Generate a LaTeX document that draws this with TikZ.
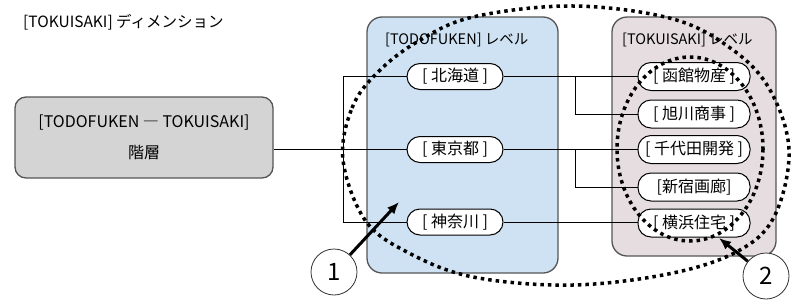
\documentclass[tikz,border=0pt]{standalone}
\usepackage{fontspec}
\setmainfont{Noto Sans CJK JP}
\usetikzlibrary{arrows.meta,calc}
\definecolor{bluefill}{HTML}{CFE2F3}
\definecolor{pinkfill}{HTML}{E6DDE0}
\definecolor{greyfill}{HTML}{D4D4D4}
\definecolor{edgegrey}{HTML}{555555}
\begin{document}
\begin{tikzpicture}[x=1pt,y=-1pt,
  txt/.style={font=\fontsize{14.5}{16}\selectfont, inner sep=0pt},
  levelbox/.style={draw=edgegrey, line width=1.3pt, rounded corners=15pt, inner sep=0pt},
  hierbox/.style={draw=edgegrey, line width=1.3pt, rounded corners=11pt, fill=greyfill,
    minimum width=258, minimum height=81, inner sep=0pt, align=center,
    font=\fontsize{16}{31}\selectfont},
  member/.style={draw, fill=white, rounded corners=13pt, line width=1pt, inner sep=0pt,
    font=\fontsize{16}{18}\selectfont},
  bluemember/.style={member, minimum width=96, minimum height=26},
  pinkmember/.style={member, minimum width=112, minimum height=28},
  conn/.style={line width=0.8pt},
  dotring/.style={line width=3.5pt, dash pattern=on 3.5pt off 4pt},
  callout/.style={circle, draw=black!80, line width=0.8pt, fill=white, minimum size=46,
    inner sep=0pt, font=\fontsize{24}{26}\selectfont},
  pointer/.style={line width=3pt, -{Latex[length=12pt,width=10pt]}}
]
\useasboundingbox (0,0) rectangle (800,300);

% title
\node[txt, anchor=west, font=\fontsize{15.5}{17}\selectfont] (title) at (23,22) {[TOKUISAKI] ディメンション};

% level boxes
\node[levelbox, fill=bluefill, minimum width=191, minimum height=256] (bluebox) at (462.5,145) {};
\node[levelbox, fill=pinkfill, minimum width=164, minimum height=239] (pinkbox) at (694,136.5) {};
\node[txt, anchor=west] (bluelabel) at (385,40) {[TODOFUKEN] レベル};
\node[txt, anchor=west] (pinklabel) at (622,40) {[TOKUISAKI] レベル};

% hierarchy box
\node[hierbox] (hier) at (144,137.5) {[TODOFUKEN ― TOKUISAKI]\\階層};

% TODOFUKEN members
\node[bluemember] (hokkaido) at (455,76.5) {[ 北海道 ]};
\node[bluemember] (tokyo) at (455,149.5) {[ 東京都 ]};
\node[bluemember] (kanagawa) at (455,222) {[ 神奈川 ]};

% TOKUISAKI members
\node[pinkmember] (hakodate) at (694,76.5) {[ 函館物産 ]};
\node[pinkmember] (asahikawa) at (694,114) {[ 旭川商事 ]};
\node[pinkmember] (chiyoda) at (694,149.5) {[ 千代田開発 ]};
\node[pinkmember] (shinjuku) at (694,187) {[新宿画廊]};
\node[pinkmember] (yokohama) at (694,223) {[ 横浜住宅 ]};

% connectors
\coordinate (bracket) at (343,76.5);
\coordinate (branch1) at (575,76.5);
\coordinate (branch2) at (575,149.5);
\draw[conn] (tokyo.west) -- (tokyo.west -| hier.east);
\draw[conn] (hokkaido.west) -- (bracket) |- (kanagawa.west);
\draw[conn] (hokkaido.east) -- (hakodate.west);
\draw[conn] (branch1) |- (asahikawa.west);
\draw[conn] (tokyo.east) -- (chiyoda.west);
\draw[conn] (branch2) |- (shinjuku.west);
\draw[conn] (kanagawa.east) -- (kanagawa.east -| yokohama.west);

% dotted rings
\draw[dotring] plot[smooth cycle, tension=0.6] coordinates {
  (343,160) (352,108) (377,73) (417,42) (473,17) (573,6) (673,19) (733,50)
  (770,90) (789,150) (775,215) (740,250) (673,273) (573,285) (473,277)
  (407,252) (365,220)};
\draw[dotring] (690,149) ellipse [x radius=73, y radius=92];

% callouts
\node[callout] (one) at (334,272) {1};
\node[callout] (two) at (766,276) {2};
\coordinate (tip1) at (399,202);
\coordinate (tip2) at (719,238);
\draw[pointer] (one) -- (tip1);
\draw[pointer] (two) -- (tip2);
\end{tikzpicture}
\end{document}
